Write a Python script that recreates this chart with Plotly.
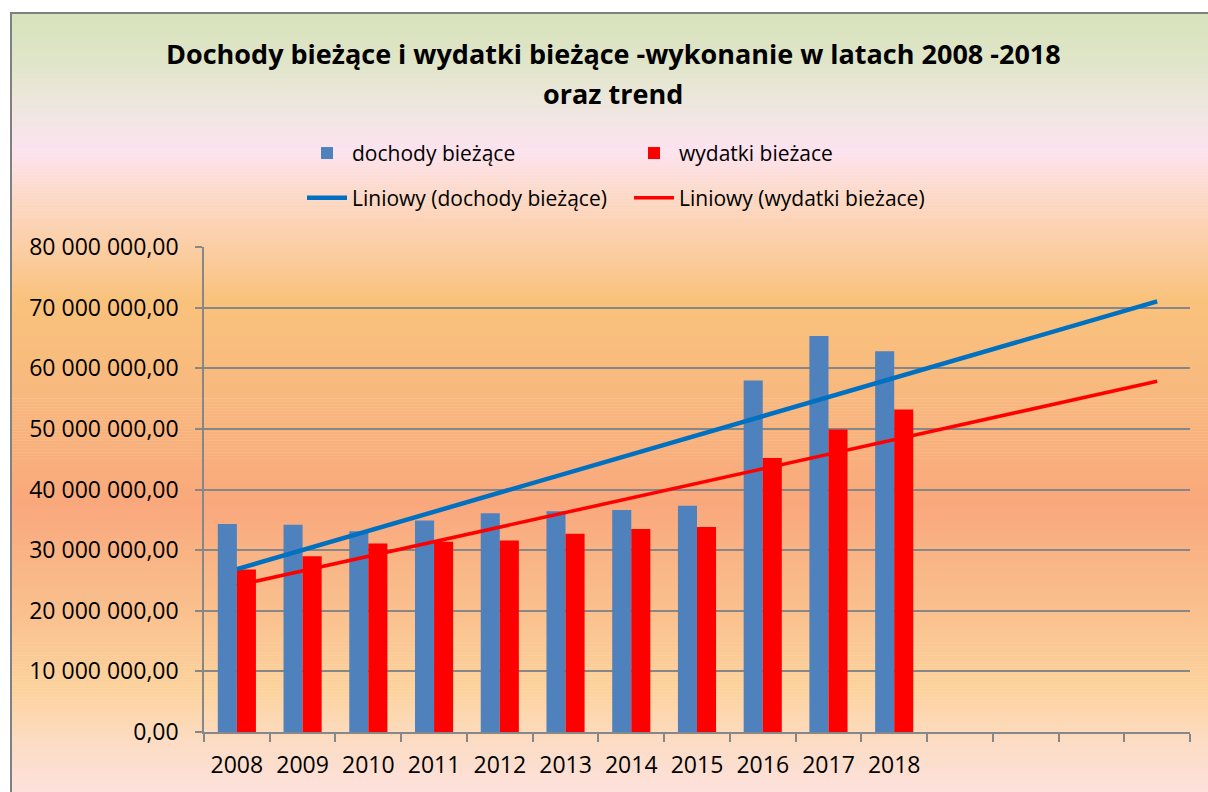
import numpy as np
import plotly.graph_objects as go

years = ["2008", "2009", "2010", "2011", "2012", "2013", "2014", "2015", "2016", "2017", "2018"]
dochody = [34.3e6, 34.2e6, 33.1e6, 34.9e6, 36.1e6, 36.4e6, 36.6e6, 37.3e6, 58.0e6, 65.3e6, 62.8e6]
wydatki = [26.8e6, 29.0e6, 31.1e6, 31.4e6, 31.6e6, 32.7e6, 33.5e6, 33.8e6, 45.2e6, 49.9e6, 53.2e6]
forecast_periods = 4
y_ticks = [0, 10e6, 20e6, 30e6, 40e6, 50e6, 60e6, 70e6, 80e6]

W, H = 1208, 792
L, R, T, B = 204, 1190, 247, 734
pw, ph = R - L, B - T

def px_x(x):
    return (x - L) / pw

def px_y(y):
    return (B - y) / ph

x_idx = list(range(len(years)))
n_total = len(years) + forecast_periods
trend_x = np.arange(n_total)

# Excel-style linear trendlines (least squares on the data)
cd = np.polyfit(x_idx, dochody, 1)
cw = np.polyfit(x_idx, wydatki, 1)
trend_d = np.polyval(cd, trend_x)
trend_w = np.polyval(cw, trend_x)

fig = go.Figure()
fig.add_bar(x=x_idx, y=dochody, name="dochody bieżące", marker_color="#4f81bd",
            marker_line_width=0, legend="legend")
fig.add_bar(x=x_idx, y=wydatki, name="wydatki bieżace", marker_color="#ff0000",
            marker_line_width=0, legend="legend")
fig.add_scatter(x=trend_x, y=trend_d, mode="lines", name="Liniowy (dochody bieżące)",
                line=dict(color="#0070c0", width=4.5), legend="legend2")
fig.add_scatter(x=trend_x, y=trend_w, mode="lines", name="Liniowy (wydatki bieżace)",
                line=dict(color="#ff0000", width=3.5), legend="legend2")

# background gradient (chart area fill)
stops = [
    (12, (0xd7, 0xe3, 0xbc)),
    (60, (0xe0, 0xe5, 0xc8)),
    (100, (0xec, 0xe7, 0xdc)),
    (150, (0xfd, 0xe3, 0xef)),
    (200, (0xfc, 0xd8, 0xc4)),
    (250, (0xfb, 0xcd, 0xa2)),
    (300, (0xf9, 0xc2, 0x7c)),
    (400, (0xf8, 0xb8, 0x7e)),
    (505, (0xf9, 0xa8, 0x7c)),
    (590, (0xf9, 0xbb, 0x8a)),
    (690, (0xfc, 0xd2, 0x9c)),
    (745, (0xfc, 0xdc, 0xc4)),
    (795, (0xfd, 0xe1, 0xdc)),
]
sy = [s[0] for s in stops]
shapes = []
step = 3
for y0 in range(12, 795, step):
    yc = y0 + step / 2
    col = [int(round(np.interp(yc, sy, [s[1][k] for s in stops]))) for k in range(3)]
    shapes.append(dict(type="rect", xref="paper", yref="paper", layer="below",
                       x0=px_x(11), x1=px_x(1215), y0=px_y(y0), y1=px_y(min(y0 + step + 0.5, 800)),
                       fillcolor="rgb(%d,%d,%d)" % tuple(col), line_width=0))
# chart area border (left and top edges visible)
shapes.append(dict(type="line", xref="paper", yref="paper", layer="above",
                   x0=px_x(11), x1=px_x(11), y0=px_y(11), y1=px_y(800),
                   line=dict(color="#808080", width=2)))
shapes.append(dict(type="line", xref="paper", yref="paper", layer="above",
                   x0=px_x(10), x1=px_x(1215), y0=px_y(12), y1=px_y(12),
                   line=dict(color="#808080", width=2)))

title_font = dict(family="Open Sans", size=27, color="#000000", weight="bold")
annotations = [
    dict(text="Dochody bieżące i wydatki bieżące -wykonanie w latach 2008 -2018",
         xref="paper", yref="paper", x=px_x(613), y=px_y(53), showarrow=False,
         xanchor="center", yanchor="middle", font=title_font),
    dict(text="oraz trend", xref="paper", yref="paper", x=px_x(613), y=px_y(93),
         showarrow=False, xanchor="center", yanchor="middle", font=title_font),
]

grid_col = "#878787"
legend_common = dict(orientation="h", xanchor="left", yanchor="middle",
                     bgcolor="rgba(0,0,0,0)", entrywidth=272, entrywidthmode="pixels",
                     font=dict(size=21), itemwidth=40, traceorder="normal")
fig.update_layout(
    width=W, height=H,
    margin=dict(l=L, r=W - R, t=T, b=H - B),
    paper_bgcolor="white",
    plot_bgcolor="rgba(0,0,0,0)",
    separators=", ",
    barmode="group", bargap=0.42, bargroupgap=0,
    font=dict(family="Open Sans", size=21, color="#000000"),
    shapes=shapes,
    annotations=annotations,
    showlegend=True,
    legend=dict(x=px_x(302), y=px_y(153), **legend_common),
    legend2=dict(x=px_x(302), y=px_y(198), **legend_common),
    xaxis=dict(range=[-0.5, n_total - 0.5], tickvals=x_idx, ticktext=years, ticks="",
               showgrid=False, showline=True, linecolor=grid_col, linewidth=1.5,
               zeroline=False, tickfont=dict(size=23), ticklabelstandoff=12,
               minor=dict(tickvals=[i - 0.5 for i in range(n_total + 1)], ticks="outside",
                          ticklen=8, tickcolor=grid_col, tickwidth=1.5, showgrid=False)),
    yaxis=dict(range=[0, 80e6], tickvals=y_ticks, tickformat=",.2f", ticks="outside",
               ticklen=7, tickcolor=grid_col, tickwidth=1.5,
               showgrid=True, gridcolor=grid_col, gridwidth=1.5,
               showline=True, linecolor=grid_col, linewidth=1.5, zeroline=False,
               tickfont=dict(size=23), ticklabelstandoff=12),
)

fig.write_html("out.html", config={"displayModeBar": False},
               post_script="document.body.style.margin='0';")
